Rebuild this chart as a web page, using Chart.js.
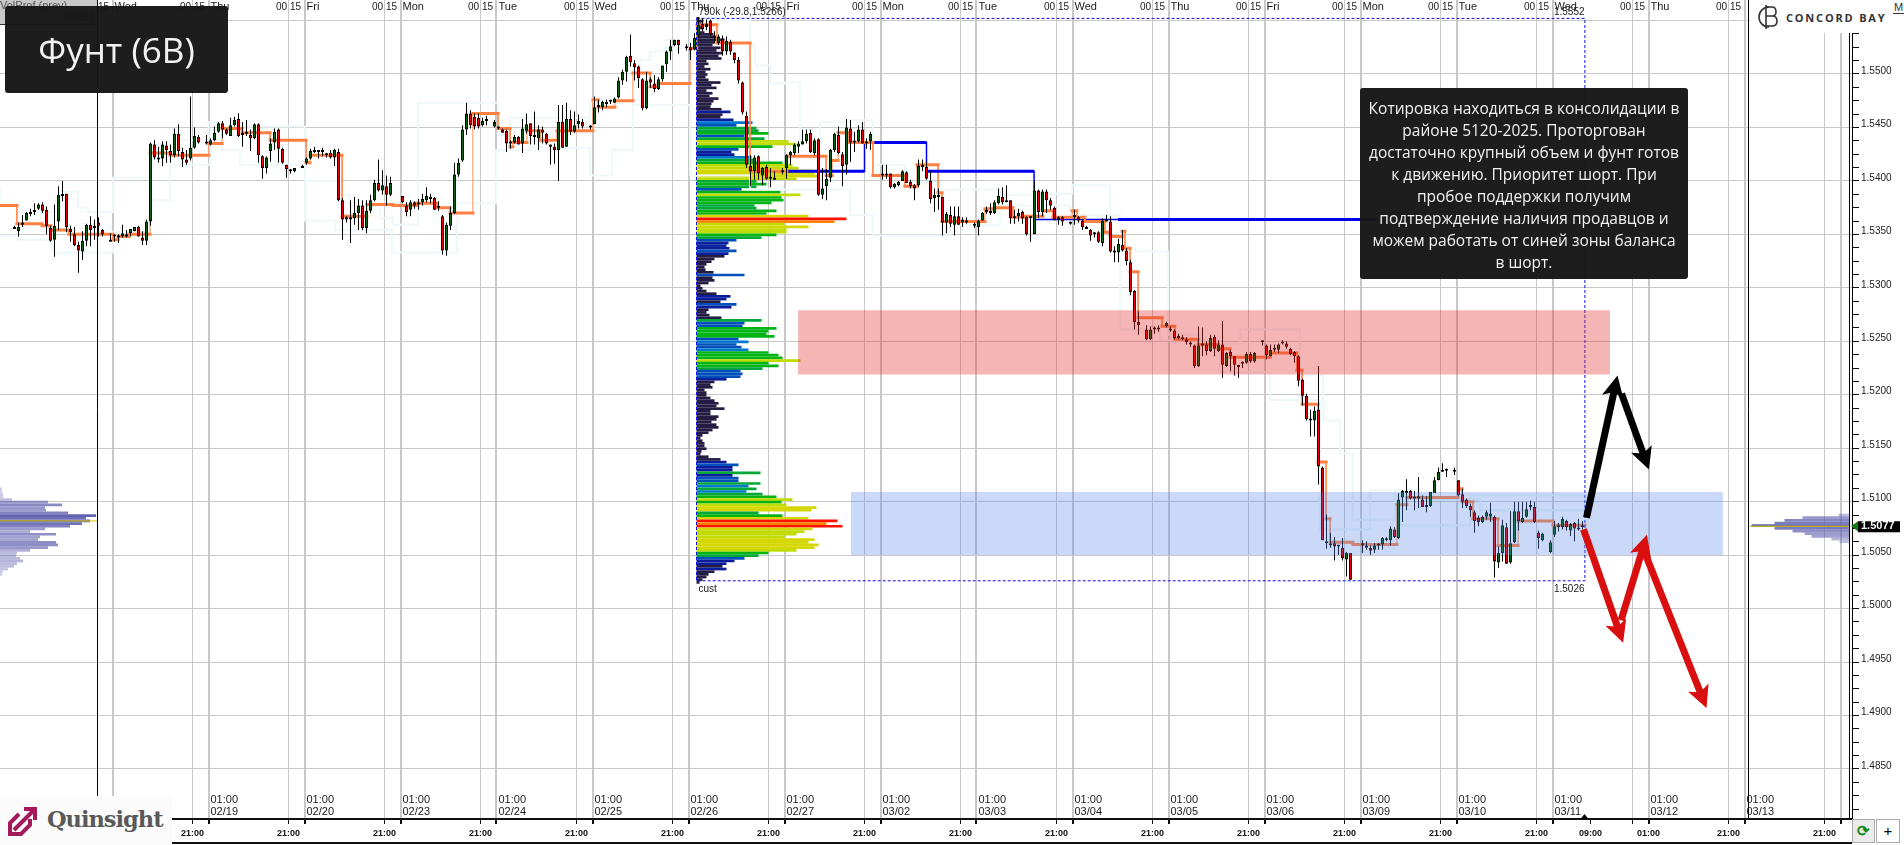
<!DOCTYPE html>
<html>
<head>
<meta charset="utf-8">
<title>Фунт (6B)</title>
<script src="https://cdn.jsdelivr.net/npm/chart.js@4"></script>
<style>
body { margin: 0; background: #fff; }
#wrap { position: relative; width: 1904px; height: 845px; overflow: hidden; }
#wrap div, #wrap svg { position: absolute; }
#volTag { left: 0; top: 0; width: 97px; height: 24px; background: #c8c8c8; color: #555; font: 11px "Liberation Sans"; border-bottom: 1px solid #333; }
.darkBox { background: rgba(22,22,22,0.97); color: #f2f2f2; border-radius: 3px; text-align: center; font-family: "Open Sans"; }
#title { left: 5px; top: 6px; width: 223px; height: 87px; line-height: 88px; font-size: 35px; }
#note { left: 1360px; top: 88px; width: 328px; height: 191px; font-size: 15.5px; line-height: 22px; padding-top: 9px; box-sizing: border-box; }
#concord { left: 1750px; top: 0; width: 154px; height: 33px; background: #fff; }
#concordText { left: 36px; top: 10px; font: bold 11px "Open Sans"; letter-spacing: 1.8px; color: #333; white-space: nowrap; }
#mBox { left: 1893px; top: 1px; font: 11px "Liberation Sans"; color: #333; border-bottom: 1px solid #333; border-right: 1px solid #333; padding: 0 1px; }
#quinsight { left: 0; top: 796px; width: 172px; height: 49px; background: #fbfbfb; }
#quinsightText { left: 47px; top: 10px; font: bold 22.5px "DejaVu Serif"; letter-spacing: -1px; color: #595959; white-space: nowrap; }
#baseLine { left: 172px; top: 842px; width: 1680px; height: 2px; background: #111; }
.btn { top: 819px; height: 24px; background: #ececec; border: 1px solid #aaa; box-sizing: border-box; text-align: center; font: bold 15px/22px "Liberation Sans"; }
</style>
</head>
<body>
<div id="wrap">
  <canvas id="chart" width="1904" height="845"></canvas>
  <div id="volTag"><span style="position:absolute;left:0;top:-1px;white-space:nowrap">VolProf (prev)</span><span style="position:absolute;right:2px;top:11px">95851</span></div>
  <div id="title" class="darkBox">Фунт (6B)</div>
  <div id="note" class="darkBox">Котировка находиться в консолидации в<br>районе 5120-2025. Проторгован<br>достаточно крупный объем и фунт готов<br>к движению. Приоритет шорт. При<br>пробое поддержки получим<br>подтверждение наличия продавцов и<br>можем работать от синей зоны баланса<br>в шорт.</div>
  <div id="concord">
    <svg style="left:6px;top:4px" width="24" height="26" viewBox="0 0 24 26"><path d="M13 3 A10 10 0 1 0 13 23" fill="none" stroke="#333" stroke-width="1.6"/><path d="M10 1 V25 M10 3 H16 Q20 3 20 8 Q20 12 16 12 H10 M16 12 Q21 12 21 17 Q21 22 16 22 H10" fill="none" stroke="#333" stroke-width="1.6"/></svg>
    <div id="concordText">CONCORD BAY</div>
  </div>
  <div id="mBox">M</div>
  <div id="quinsight">
    <svg style="left:7px;top:9px" width="32" height="32" viewBox="0 0 32 32"><path d="M12 9 L3 18 L3 29 L14 29 L23 20 L23 14" fill="none" stroke="#a3195b" stroke-width="4"/><path d="M7 25 L27 5 M17 4 L28 4 L28 15" fill="none" stroke="#a3195b" stroke-width="4"/></svg>
    <div id="quinsightText">Quinsight</div>
  </div>
  <div id="baseLine"></div>
  <div class="btn" style="left:1852px;width:23px;color:#118a11">⟳</div>
  <div class="btn" style="left:1876px;width:24px;background:#fff;font-weight:normal">+</div>
</div>
<script>
// prices are kept in pips (15077 = 1.5077), one hour bars, one row per trading day
const opens = [
  15357,15353,15359,15363,15369,15371,15374,15378,15373,15356,15345,15362,15387,15388,15355,15350,15340,15334,15344,15359,15356,15361,15354,null,
  15344,15348,15349,15348,15348,15351,15353,15357,15347,15344,15362,15434,15421,15421,15433,15428,15424,15444,15427,15420,15421,15431,15441,null,
  15436,15434,15438,15446,15454,15448,15442,15452,15458,15443,15444,15443,15440,15453,15423,15412,15428,15436,15448,15430,15415,15409,15409,null,
  15412,15417,15421,15427,15428,15427,15424,15426,15422,15427,15382,15366,15364,15365,15370,15377,15356,15372,15382,15398,15391,15395,15387,null,
  null,15386,15377,15373,15380,15379,15380,15382,15383,15384,15376,15367,15335,15358,15370,15406,15419,15448,15463,15460,15459,15452,15456,null,
  15451,15449,15448,15447,15436,15436,15441,15435,15447,15454,15441,15440,15448,15444,15434,15432,15429,15455,15432,15458,15446,15453,15455,null,
  15450,15453,15469,15469,15474,15474,15473,15478,15494,15502,15517,15510,15507,15495,15468,15495,15491,15486,15495,15509,15521,15527,15532,null,
  15524,15525,15523,15536,15547,15544,15550,15536,15529,15533,15521,15530,15520,15513,15492,15461,15414,15409,15423,15405,15413,15402,15402,null,
  15408,15412,15424,15426,15432,15434,15437,15445,15426,15439,15387,15395,15403,15429,15443,15425,15415,15449,15437,15437,15448,15436,15437,null,
  null,15406,15405,15407,15394,15396,15400,15408,15399,15396,15396,15413,15413,15400,15384,15385,15385,15361,15368,15359,15367,15361,15363,null,
  15358,15357,15363,15371,15372,15370,15379,15385,15381,15382,15367,15367,15371,15366,15365,15350,15391,15371,15390,15382,15375,15364,15366,null,
  15360,15366,15366,15363,15356,15354,15350,15352,15342,15362,15362,15334,15333,15340,15335,15324,15297,15268,null,15261,15252,15261,15261,null,
  15264,15261,15260,15253,15253,15252,15248,15246,15227,15246,15247,15241,15254,15241,15247,15227,15240,15236,15227,15229,15230,15238,15231,null,
  15249,15246,15236,15242,15242,15248,15248,15243,15240,15236,15214,15199,15177,15176,15186,15132,15063,15060,15061,15059,15057,15046,15052,null,
  null,15059,15058,15057,15055,15059,15060,15064,15064,15074,15066,15104,15108,15110,15104,15103,15102,15096,15096,15108,15120,15128,15129,null,
  15128,15120,15107,15102,15096,15090,15085,15081,15086,15086,15086,15043,15052,15076,15043,15062,15091,15081,15086,15095,15095,15071,15064,null,
  15053,15069,15076,15076,15082,15073,15080,15075,15077
];
const highs = [
  15358,15361,15368,15371,15374,15379,15379,15380,15376,15358,15378,15395,15400,15388,15358,15357,15343,15353,15360,15367,15364,15366,15355,null,
  15351,15350,15350,15359,15354,15355,15357,15358,15353,15364,15436,15438,15432,15437,15437,15434,15449,15453,15431,15429,15479,15450,15443,null,
  15443,15440,15451,15455,15456,15449,15459,15460,15463,15455,15457,15448,15454,15454,15424,15423,15440,15449,15449,15431,15415,15411,15412,null,
  15415,15422,15430,15432,15429,15431,15426,15429,15430,15430,15384,15367,15382,15385,15383,15382,15382,15387,15401,15420,15410,15405,15404,null,
  null,15386,15380,15382,15381,15383,15388,15394,15388,15385,15381,15368,15361,15376,15417,15421,15452,15473,15466,15463,15463,15459,15461,null,
  15457,15451,15449,15448,15438,15443,15442,15458,15463,15454,15465,15452,15451,15445,15434,15435,15471,15471,15473,15466,15465,15462,15458,null,
  15452,15479,15476,15475,15476,15476,15478,15497,15504,15517,15537,15513,15508,15496,15502,15497,15499,15497,15508,15522,15532,15532,15532,null,
  15528,15529,15538,15553,15552,15551,15551,15540,15537,15536,15535,15532,15520,15516,15493,15465,15424,15424,15424,15413,15415,15412,15409,null,
  15412,15425,15428,15435,15437,15448,15448,15448,15440,15440,15412,15411,15430,15445,15451,15427,15458,15457,15446,15452,15455,15440,15446,null,
  null,15415,15415,15407,15398,15400,15410,15409,15401,15397,15420,15420,15418,15409,15393,15393,15385,15371,15376,15376,15376,15366,15366,null,
  15361,15364,15371,15376,15379,15382,15393,15394,15396,15382,15373,15374,15372,15367,15367,15400,15392,15392,15392,15384,15376,15367,15367,null,
  15362,15373,15367,15364,15358,15355,15352,15353,15365,15368,15367,15339,15346,15354,15337,15326,15298,15278,null,15265,15264,15264,15265,null,
  15268,15264,15261,15257,15256,15254,15250,15247,15264,15263,15250,15256,15256,15251,15269,15240,15242,15236,15228,15231,15240,15240,15240,null,
  15251,15247,15247,15247,15248,15251,15250,15244,15241,15237,15215,15201,15186,15189,15227,15133,15088,15071,15067,15059,15066,15053,15052,null,
  null,15064,15063,15059,15061,15061,15067,15067,15077,15076,15108,15111,15121,15111,15110,15123,15106,15105,15109,15123,15132,15136,15131,null,
  15132,15120,15112,15103,15098,15092,15087,15087,15092,15099,15087,15058,15083,15080,15091,15100,15100,15100,15100,15101,15100,15073,15071,null,
  15064,15082,15080,15086,15083,15080,15081,15084,15082
];
const lows = [
  15355,15348,15357,15363,15367,15368,15373,15370,15350,15343,15329,15354,15381,15352,15343,15339,15314,15326,15339,15339,15345,15348,15348,null,
  15343,15343,15342,15347,15347,15348,15353,15348,15340,15340,15358,15420,15417,15414,15417,15417,15422,15423,15413,15415,15419,15430,15435,null,
  15434,15433,15437,15445,15440,15443,15442,15451,15441,15432,15442,15428,15439,15417,15402,15407,15418,15429,15417,15416,15403,15407,15408,null,
  15412,15415,15420,15426,15421,15423,15422,15421,15414,15381,15345,15361,15342,15359,15354,15354,15351,15370,15381,15390,15387,15377,15386,null,
  null,15379,15367,15367,15374,15373,15377,15380,15379,15373,15372,15331,15330,15354,15369,15404,15418,15443,15449,15448,15449,15451,15452,null,
  15450,15448,15445,15427,15430,15435,15434,15426,15444,15434,15434,15429,15435,15434,15415,15416,15400,15431,15432,15443,15445,15449,15449,null,
  15448,15453,15464,15466,15469,15472,15473,15477,15490,15493,15507,15494,15487,15466,15467,15487,15483,15485,15493,15502,15513,15526,15519,null,
  15522,15513,15522,15533,15540,15541,15535,15529,15527,15517,15518,15518,15510,15491,15462,15412,15395,15401,15401,15396,15401,15394,15401,null,
  15406,15402,15415,15424,15426,15434,15435,15426,15424,15386,15383,15382,15399,15427,15425,15395,15406,15418,15427,15436,15435,15430,15429,null,
  null,15401,15402,15393,15393,15395,15400,15398,15393,15382,15394,15409,15401,15379,15371,15373,15349,15351,15357,15349,15359,15357,15360,null,
  15356,15349,15363,15369,15368,15369,15378,15378,15380,15360,15360,15362,15360,15349,15343,15350,15365,15367,15370,15373,15363,15359,15358,null,
  15359,15359,15361,15354,15355,15344,15347,15342,15339,15362,15333,15324,15324,15334,15321,15293,15261,15256,null,15251,15251,15257,15259,null,
  15263,15259,15252,15252,15251,15247,15245,15225,15226,15236,15237,15240,15236,15240,15216,15226,15222,15218,15216,15225,15229,15230,15230,null,
  15246,15233,15236,15240,15239,15247,15243,15237,15230,15208,15190,15176,15161,15161,15116,15064,15056,15057,15045,15050,15045,15030,15027,null,
  null,15052,15055,15050,15052,15055,15055,15063,15059,15066,15065,15081,15092,15102,15092,15094,15095,15090,15095,15108,15120,15128,15123,null,
  15125,15105,15094,15094,15086,15071,15077,15080,15083,15081,15029,15038,15044,15042,15042,15061,15073,15080,15085,15092,15080,15056,15063,null,
  15052,15067,15072,15074,15073,15068,15063,15073,15074
];
const closes = [
  15355,15357,15361,15370,15371,15372,15378,15372,15358,15344,15358,15387,15386,15357,15352,15340,15335,15344,15359,15354,15358,15358,15350,null,
  15343,15349,15347,15351,15350,15355,15357,15348,15344,15362,15435,15422,15420,15434,15429,15424,15444,15428,15420,15417,15431,15442,15436,null,
  15435,15438,15445,15454,15448,15444,15452,15457,15442,15444,15445,15440,15453,15424,15412,15422,15435,15446,15430,15417,15411,15410,15412,null,
  15414,15421,15428,15428,15427,15428,15425,15422,15429,15382,15364,15364,15366,15370,15377,15356,15372,15382,15398,15391,15396,15387,15398,null,
  null,15380,15371,15380,15377,15378,15383,15386,15385,15373,15375,15335,15359,15370,15406,15417,15448,15463,15452,15451,15451,15456,15456,null,
  15455,15450,15445,15435,15435,15441,15434,15449,15453,15442,15442,15448,15445,15435,15432,15429,15455,15431,15458,15446,15452,15456,15451,null,
  15451,15469,15471,15474,15472,15474,15477,15494,15502,15516,15511,15506,15496,15468,15494,15492,15486,15495,15508,15521,15526,15532,15527,null,
  15525,15522,15534,15546,15542,15547,15537,15534,15535,15521,15531,15521,15513,15494,15464,15415,15409,15422,15407,15412,15402,15402,15401,null,
  15410,15424,15427,15434,15435,15437,15444,15427,15438,15387,15393,15402,15429,15444,15426,15414,15450,15436,15436,15448,15435,15435,15444,null,
  null,15405,15406,15394,15397,15399,15409,15398,15395,15393,15414,15415,15402,15383,15387,15387,15361,15369,15360,15367,15359,15364,15361,null,
  15360,15363,15370,15373,15370,15380,15386,15380,15380,15365,15365,15370,15365,15350,15366,15391,15371,15390,15382,15377,15364,15366,15362,null,
  15361,15368,15363,15357,15355,15349,15351,15343,15363,15363,15334,15333,15341,15335,15325,15296,15268,15265,null,15252,15261,15262,15262,null,
  15267,15260,15253,15254,15252,15249,15247,15227,15246,15247,15241,15253,15243,15247,15228,15239,15236,15228,15226,15230,15238,15231,15239,null,
  15249,15237,15242,15243,15247,15249,15245,15238,15236,15213,15199,15177,15176,15185,15133,15064,15061,15059,15058,15058,15047,15052,15027,null,
  null,15061,15057,15054,15059,15060,15066,15065,15075,15067,15102,15110,15110,15103,15103,15105,15095,15095,15109,15120,15128,15129,15130,null,
  15129,15106,15100,15096,15092,15082,15081,15086,15090,15089,15044,15052,15078,15042,15061,15091,15082,15085,15093,15096,15081,15066,15070,null,
  15062,15077,15077,15084,15076,15079,15075,15074,15076
];

// day separators and 21:00 lines, hours after 02/19 01:00
const dayHours = [-24,0,24,48,72,96,120,144,168,192,216,240,264,288,312,336,360,384,408];
const lateHours = [-4,20,44,68,92,116,140,164,188,212,236,260,284,308,332,356,380,404];
const dayNames = ['Wed','Thu','Fri','Mon','Tue','Wed','Thu','Fri','Mon','Tue','Wed','Thu','Fri','Mon','Tue','Wed','Thu'];
const dayDates = ['02/19','02/20','02/23','02/24','02/25','02/26','02/27','03/02','03/03','03/04','03/05','03/06','03/09','03/10','03/11','03/12','03/13'];
const priceTicks = [14850,14900,14950,15000,15050,15100,15150,15200,15250,15300,15350,15400,15450,15500,15550];

// session POC, breaks in hours and one price for each piece
const pocX = [-52.1,-47.9,-41.6,-39.4,-34.9,-23.9,-22.6,-19.9,-14.6,-9.6,0.1,3.4,8.4,15.4,24.4,25.4,33.4,39.6,46.1,52.1,57.1,60.4,66.1,72.4,75.4,76.1,79.6,82.9,87.1,96.1,97.4,101.6,106.1,110.4,112.4,120.4,122.1,127.1,135.4,144.6,154.4,155.9,157.4,159.9,166.1,174.1,177.1,182.4,183.4,194.1,196.6,201.1,204.1,208.6,211.1,215.9,217.1,219.1,224.1,225.4,228.4,229.1,230.4,232.4,238.4,241.6,247.4,252.4,255.4,265.4,272.1,273.4,277.4,279.4,280.4,286.1,297.1,299.6,312.4,313.4,316.1,322.4,327.4,336.1,344.1];
const pocY = [15377,15360,15358,15354,15350,15345,15348,15350,15426,15424,15435,15449,15445,15438,15417,15424,15367,15378,15377,15379,15375,15370,15463,15449,15432,15436,15447,15438,15447,15476,15469,15475,15501,15488,15491,15524,15546,15529,15409,15423,15405,15419,15445,15436,15405,15395,15415,15389,15362,15374,15375,15366,15367,15372,15366,15372,15366,15362,15352,15348,15353,15337,15315,15272,15264,15252,15247,15243,15235,15239,15223,15191,15137,15084,15062,15060,15097,15104,15112,15100,15084,15059,15082,15078];

// blue level pieces
const blueStart = [144.6,164,179.5,206.4,227.4];
const blueEnd = [164,179.5,206.4,227.4,292];
const bluePrice = [15409,15436,15409,15364,15364];

// pale value area outline
const vaHighX = [-52.1,-47.6,-37.1,-32.6,-30.1,-23.9,-14.6,-12.1,-9.6,0,3.4,17.1,24.1,32.9,35.4,42.9,46.1,52.4,65.4,72.4,75.4,87.9,95.4,97.9,107.9,110.4,114.1,120.4,124.1,135.4,136.6,140.4,144.1,147.9,152.9,160.4,166.1,174.1,182.9,197.9,207.9,215.9,225.4,231.9,239.9,247.9,257.9,272.9,278.6,282.9,286.1,296.6,302.9,317.9,344];
const vaHighY = [15394,15377,15371,15390,15375,15371,15403,15420,15435,15438,15455,15451,15451,15400,15387,15377,15365,15359,15473,15473,15443,15459,15459,15474,15476,15513,15521,15524,15541,15550,15527,15508,15491,15492,15436,15455,15457,15415,15399,15392,15387,15388,15396,15336,15334,15256,15247,15261,15218,15176,15145,15083,15111,15102,15092];
const vaLowX = [-52.1,-47.6,-38.9,-31.6,-23.9,-14.6,-9.6,-5.4,0.4,3.4,7.9,24.1,31.6,45.9,62.1,66.1,71.9,80.4,95.4,100.9,106.1,120.4,135.4,160.4,166.1,185.4,197.9,215.4,227.9,237.9,252.9,265.4,277.9,290.4,297.9,315.4,337.9,344];
const vaLowY = [15349,15349,15345,15333,15333,15352,15382,15415,15415,15438,15429,15415,15363,15354,15333,15379,15379,15429,15431,15405,15429,15471,15405,15392,15368,15349,15359,15377,15368,15261,15251,15221,15195,15074,15111,15078,15106,15106];

// main volume profile, one row per 2.5 pips from the top of the range, in k/5
const profileVol = [
  3,7,5,8,9,8,17,20,28,18,16,24,20,26,22,25,10,12,8,14,9,11,9,12,24,15,20,10,16,13,22,17,15,14,25,34,26,24,37,56,
  40,60,62,72,48,68,92,100,76,42,35,38,55,58,86,96,102,115,118,122,100,60,70,60,45,84,104,85,87,75,58,60,80,70,112,150,138,88,112,90,
  90,80,65,40,32,30,33,40,32,28,18,15,10,8,9,17,48,16,18,12,4,6,10,20,34,30,24,40,35,12,10,13,25,65,48,46,80,72,70,78,
  42,52,40,45,52,72,82,86,104,72,82,66,44,46,44,30,18,14,16,8,10,10,14,18,22,20,28,14,14,22,20,15,20,22,16,12,6,4,6,8,
  8,10,5,4,12,24,30,42,36,36,64,36,42,42,64,52,60,50,66,80,96,85,90,120,115,62,86,112,141,130,146,116,108,100,88,118,112,122,118,100,
  72,62,48,38,30,26,30,18,12,10,6,3
];
const profileTop = 15552;
const profileBottom = 15026;

// prior profile at the left, current profile at the right edge
const leftVol = [2,2,3,3,12,48,62,45,46,68,96,86,90,82,70,45,30,56,40,38,56,58,48,30,17,16,20,23,17,14,8,3,2];
const rightVol = [11,47,65,75,98,75,57,45,38,18,10];

const zonePink = [15279,15219];
const zoneBlue = [15109,15050];
const lastPrice = 15077;

// forecast arrows: from hour, from price, to hour, to price
const arrowFromX = [344.5,353.25,343.75,353.15,359.1];
const arrowFromY = [15085,15201,15074,14989,15052];
const arrowToX = [352.25,360.1,353.65,359.6,374.5];
const arrowToY = [15218,15130,14968,15069,14907];
const arrowColors = ['#000','#000','#d90e0e','#d90e0e','#d90e0e'];

const firstHour = -52.125;
const lastHour = 410.875;
const yMin = 14803.2;
const yMax = 15569.2;

function bodyColor(o, c) { return c >= o ? '#006a0e' : '#f00000'; }

function profileColor(v) {
    if (v < 30) return '#241c42';
    if (v < 40) return '#0a1e9c';
    if (v < 50) return '#0050bc';
    if (v < 58) return '#0078d0';
    if (v < 70) return '#00a838';
    if (v < 88) return '#00b414';
    if (v < 112) return '#c0dc00';
    if (v < 128) return '#d4d800';
    if (v < 140) return '#ff8000';
    return '#ff1000';
}

const wickData = [];
const bodyData = [];
const bodyFill = [];
opens.forEach((o, i) => {
    if (o === null) return;
    const t = i - 48.5;
    wickData.push({ x: t, y: [lows[i], highs[i]] });
    bodyData.push({ x: t, y: [o, closes[i]] });
    bodyFill.push(bodyColor(o, closes[i]));
});

const pocThin = [];
const pocThick = [];
pocY.forEach((p, i) => {
    pocThin.push({ x: pocX[i], y: p }, { x: pocX[i + 1], y: p });
    pocThick.push({ x: pocX[i], y: p }, { x: pocX[i + 1], y: p }, { x: pocX[i + 1], y: null });
});

const blueThin = [];
const blueThick = [];
bluePrice.forEach((p, i) => {
    blueThin.push({ x: blueStart[i], y: p }, { x: blueEnd[i], y: p });
    if (i !== 3) blueThick.push({ x: blueStart[i], y: p }, { x: blueEnd[i], y: p }, { x: blueEnd[i], y: null });
});

const profileStart = 122;
const profileData = profileVol.map((v, i) => ({ y: profileTop - 2.5 * i, x: [profileStart, profileStart + v / 4] }));
const leftData = leftVol.map((v, i) => ({ y: 15112 - 2.5 * i, x: [firstHour, firstHour + v / 4] }));
const rightEdge = 410.25;
const rightData = rightVol.map((v, i) => ({ y: 15087.5 - 2.5 * i, x: [rightEdge - v / 4, rightEdge] }));

function stepLine(xs, ys) { return xs.map((x, i) => ({ x: x, y: ys[i] })); }
function vertical(t) { return [{ x: t, y: yMin }, { x: t, y: yMax }]; }
function line(label, data, color, width, order, extra) {
    return Object.assign({ type: 'line', label: label, data: data, borderColor: color, borderWidth: width, pointRadius: 0, order: order }, extra || {});
}
function hbar(label, data, colors, order) {
    return { type: 'bar', label: label, indexAxis: 'y', data: data, backgroundColor: colors, barThickness: 2.7, borderWidth: 0, inflateAmount: 0, grouped: false, order: order, xAxisID: 'x', yAxisID: 'y' };
}

// the plot fills the whole window, axes only get the strips at the right and bottom
const fixedLayout = {
    id: 'fixedLayout',
    afterLayout(chart) {
        const a = chart.chartArea, xs = chart.scales.x, ys = chart.scales.y;
        a.left = 0; a.right = 1852; a.top = 0; a.bottom = 819; a.width = 1852; a.height = 819;
        xs.left = 0; xs.right = 1852; xs.width = 1852; xs.top = 819; xs.bottom = 845; xs.height = 26;
        ys.top = 0; ys.bottom = 819; ys.height = 819; ys.left = 1852; ys.right = 1904; ys.width = 52;
        xs.configure();
        ys.configure();
    }
};

const textPlugin = {
    id: 'chartText',
    afterDatasetsDraw(chart) {
        const c = chart.ctx, xs = chart.scales.x, ys = chart.scales.y;
        // arrows
        arrowFromX.forEach((x0, i) => {
            const ax = xs.getPixelForValue(x0), ay = ys.getPixelForValue(arrowFromY[i]);
            const bx = xs.getPixelForValue(arrowToX[i]), by = ys.getPixelForValue(arrowToY[i]);
            const a = Math.atan2(by - ay, bx - ax);
            c.save();
            c.strokeStyle = arrowColors[i];
            c.fillStyle = arrowColors[i];
            c.lineWidth = 7;
            c.beginPath();
            c.moveTo(ax, ay);
            c.lineTo(bx - 14 * Math.cos(a), by - 14 * Math.sin(a));
            c.stroke();
            c.translate(bx, by);
            c.rotate(a);
            c.beginPath();
            c.moveTo(0, 0);
            c.lineTo(-22, -11);
            c.lineTo(-17, 0);
            c.lineTo(-22, 11);
            c.closePath();
            c.fill();
            c.restore();
        });
        c.save();
        c.fillStyle = '#1a1a1a';
        c.textBaseline = 'middle';
        // top row
        c.font = '10px "Liberation Sans"';
        c.textAlign = 'center';
        [-28].concat(lateHours.slice(0, 17)).forEach(h => c.fillText('00 15', xs.getPixelForValue(h), 7));
        c.textAlign = 'left';
        c.font = '11px "Liberation Sans"';
        dayNames.forEach((n, i) => c.fillText(n, xs.getPixelForValue(dayHours[i]) + 2, 7));
        // session start labels
        dayDates.forEach((d, i) => {
            const x = xs.getPixelForValue(dayHours[i + 1]) + 2;
            c.fillText('01:00', x, 800);
            c.fillText(d, x, 812);
        });
        // profile labels
        c.font = '10px "Liberation Sans"';
        c.fillText('790k (-29.8,1.5266)', xs.getPixelForValue(profileStart) + 2, ys.getPixelForValue(profileTop) - 6);
        c.fillText('cust', xs.getPixelForValue(profileStart) + 2, ys.getPixelForValue(profileBottom) + 8);
        c.textAlign = 'right';
        c.fillText('1.5552', xs.getPixelForValue(344), ys.getPixelForValue(profileTop) - 6);
        c.fillText('1.5026', xs.getPixelForValue(344), ys.getPixelForValue(profileBottom) + 8);
        // last bar marker on the time axis
        c.fillStyle = '#000';
        const mx = xs.getPixelForValue(344);
        c.beginPath();
        c.moveTo(mx, 814);
        c.lineTo(mx - 4, 819);
        c.lineTo(mx + 4, 819);
        c.fill();
        // last price flag
        const py = ys.getPixelForValue(lastPrice);
        c.fillRect(1858, py - 5, 42, 11);
        c.fillStyle = '#117a11';
        c.beginPath();
        c.moveTo(1851, py);
        c.lineTo(1858, py - 5);
        c.lineTo(1858, py + 5);
        c.fill();
        c.fillStyle = '#fff';
        c.textAlign = 'left';
        c.font = 'bold 11px "Liberation Sans"';
        c.fillText('1.5077', 1861, py);
        c.restore();
    }
};

function drawChart() {
    const ctx = document.getElementById('chart').getContext('2d');
    new Chart(ctx, {
        type: 'bar',
        plugins: [fixedLayout, textPlugin],
        data: {
            datasets: [
                line('Pink zone', [{ x: 147.4, y: zonePink[0] }, { x: 350.4, y: zonePink[0] }], 'rgba(0,0,0,0)', 0, 1, { fill: { value: zonePink[1] }, backgroundColor: 'rgba(228,50,50,0.36)' }),
                line('Blue zone', [{ x: 160.6, y: zoneBlue[0] }, { x: 378.6, y: zoneBlue[0] }], 'rgba(0,0,0,0)', 0, 1, { fill: { value: zoneBlue[1] }, backgroundColor: 'rgba(90,140,232,0.33)' }),
                { label: 'Bodies', data: bodyData, backgroundColor: bodyFill, borderColor: '#000', borderWidth: 1, borderSkipped: false, barThickness: 3, minBarLength: 2, inflateAmount: 0, grouped: false, order: 2 },
                { label: 'Wicks', data: wickData, backgroundColor: '#000', borderWidth: 0, barThickness: 1, inflateAmount: 0, grouped: false, order: 3 },
                line('POC', pocThick, '#ff7f40', 3, 4, { borderCapStyle: 'square' }),
                line('POC steps', pocThin, '#ff8a50', 1, 5),
                line('Blue level', blueThick, '#0000f0', 3, 4),
                line('Blue steps', blueThin, '#0000f0', 1.5, 5),
                line('VA high', stepLine(vaHighX, vaHighY), '#eef8fb', 2, 8, { stepped: 'after' }),
                line('VA low', stepLine(vaLowX, vaLowY), '#eef8fb', 2, 8, { stepped: 'after' }),
                hbar('Profile', profileData, profileVol.map(profileColor), 9),
                hbar('Prior profile', leftData, leftVol.map(v => 'rgba(96,96,176,' + (0.3 + v / 140) + ')'), 9),
                hbar('Current profile', rightData, rightVol.map(v => 'rgba(96,96,176,' + (0.35 + v / 160) + ')'), 9),
                line('Prior close', [{ x: firstHour, y: 15082 }, { x: -27.75, y: 15082 }], '#d8c800', 1, 6),
                line('Last', [{ x: 385, y: lastPrice }, { x: rightEdge, y: lastPrice }], '#d8c800', 1, 6),
                line('Range box', [{ x: profileStart, y: profileTop }, { x: 344.1, y: profileTop }, { x: 344.1, y: profileBottom }, { x: profileStart, y: profileBottom }, { x: profileStart, y: profileTop }], '#1010e0', 1, 3, { borderDash: [3, 2] }),
                line('Left edge', vertical(-27.75), '#000', 1, 2),
                line('Right edge', vertical(385), '#000', 1, 2),
                line('Axis edge', vertical(410.25), '#000', 1, 2)
            ]
        },
        options: {
            responsive: false,
            animation: false,
            events: [],
            layout: { autoPadding: false, padding: 0 },
            plugins: { legend: { display: false }, tooltip: { enabled: false } },
            scales: {
                x: {
                    type: 'linear',
                    position: 'bottom',
                    min: firstHour,
                    max: lastHour,
                    offset: false,
                    afterBuildTicks(scale) {
                        scale.ticks = dayHours.concat(lateHours, [345.5]).sort((a, b) => a - b).map(v => ({ value: v }));
                    },
                    border: { color: '#111', width: 2 },
                    grid: {
                        offset: false,
                        color: c => (c.tick && c.tick.value === 345.5 ? 'rgba(0,0,0,0)' : '#c8c8c8'),
                        lineWidth: c => (c.tick && dayHours.includes(c.tick.value) ? 2 : 1),
                        tickColor: '#111',
                        tickLength: 5
                    },
                    ticks: {
                        autoSkip: false,
                        maxRotation: 0,
                        minRotation: 0,
                        padding: 4,
                        color: '#111',
                        font: { family: 'Liberation Sans', size: 9, weight: 'bold' },
                        callback(v) {
                            if (v === 345.5) return '09:00';
                            if (v === 360) return '01:00';
                            if (v === 356) return '';
                            return lateHours.includes(v) ? '21:00' : '';
                        }
                    }
                },
                y: {
                    type: 'linear',
                    position: 'right',
                    min: yMin,
                    max: yMax,
                    offset: false,
                    afterBuildTicks(scale) {
                        const list = [];
                        for (let p = 14812.5; p <= 15562.5; p += 12.5) list.push({ value: p });
                        scale.ticks = list;
                    },
                    border: { color: '#000', width: 1 },
                    grid: {
                        offset: false,
                        color: c => (c.tick && priceTicks.includes(c.tick.value) ? '#c8c8c8' : 'rgba(0,0,0,0)'),
                        tickColor: '#111',
                        tickLength: 7
                    },
                    ticks: {
                        autoSkip: false,
                        padding: 2,
                        labelOffset: -3,
                        color: '#222',
                        font: { family: 'Liberation Sans', size: 10 },
                        callback(v) { return priceTicks.includes(v) ? (v / 10000).toFixed(4) : ''; }
                    }
                }
            }
        }
    });
}

document.addEventListener('DOMContentLoaded', drawChart);
</script>
</body>
</html>
